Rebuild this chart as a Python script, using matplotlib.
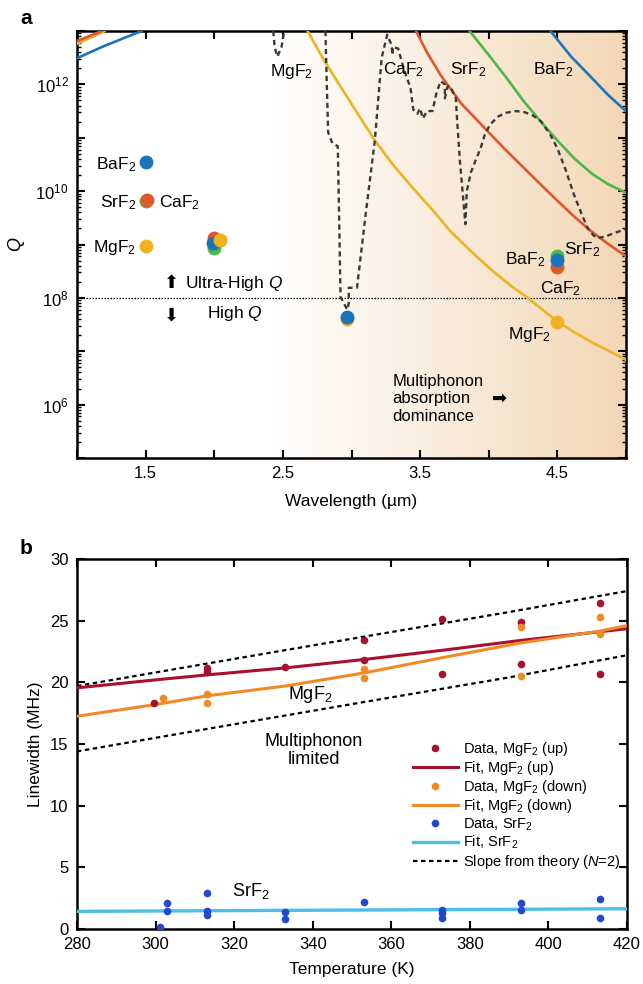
import matplotlib
matplotlib.use("Agg")
import matplotlib.pyplot as plt
import numpy as np
from matplotlib.colors import LinearSegmentedColormap
from matplotlib.ticker import LogLocator, FixedLocator, NullFormatter

plt.rcParams["font.family"] = ["Liberation Sans", "DejaVu Sans"]
plt.rcParams["mathtext.fontset"] = "custom"
plt.rcParams["mathtext.rm"] = "Liberation Sans"
plt.rcParams["mathtext.it"] = "Liberation Sans:italic"
plt.rcParams["font.size"] = 11

# ---------------- panel a data (log10 Q vs wavelength in um) ----------------
# multiphonon-limited Q curves
mgf2_lam = [2.68, 2.8, 2.92, 3.05, 3.17, 3.3, 3.45, 3.6, 3.72, 3.88, 4.03,
            4.16, 4.29, 4.4, 4.5, 4.62, 4.75, 4.88, 5.0]
mgf2_logq = [13.0, 12.45, 11.96, 11.43, 10.95, 10.5, 10.05, 9.62, 9.25, 8.85, 8.5,
             8.23, 7.99, 7.76, 7.56, 7.36, 7.17, 7.0, 6.84]
caf2_lam = [3.47, 3.55, 3.65, 3.8, 4.0, 4.12, 4.25, 4.38, 4.5, 4.62, 4.74, 4.87, 5.0]
caf2_logq = [13.0, 12.6, 12.17, 11.64, 11.1, 10.78, 10.45, 10.12, 9.82, 9.53, 9.26, 9.01, 8.78]
srf2_lam = [3.86, 4.0, 4.13, 4.25, 4.38, 4.5, 4.62, 4.75, 4.87, 5.0]
srf2_logq = [13.0, 12.55, 12.12, 11.7, 11.3, 10.95, 10.62, 10.33, 10.13, 9.97]
baf2_lam = [4.45, 4.6, 4.74, 4.87, 5.0]
baf2_logq = [13.0, 12.52, 12.15, 11.8, 11.5]

# short-wavelength (scattering) curves in the top-left corner
baf2_sc_lam = [1.0, 1.19, 1.47]
baf2_sc_logq = [12.49, 12.71, 13.0]
mgf2_sc_lam = [1.0, 1.2]
mgf2_sc_logq = [12.76, 13.0]
srf2_sc_lam = [1.0, 1.2]
srf2_sc_logq = [12.77, 13.0]
caf2_sc_lam = [1.0, 1.18]
caf2_sc_logq = [12.81, 13.0]

# dashed measured curve
dash_lam = [2.43, 2.44, 2.46, 2.49, 2.51, np.nan,
            2.81, 2.82, 2.83, 2.86, 2.90, 2.91, 2.92, 2.95, 2.97, 2.98, 2.98,
            3.04, 3.10, 3.17, 3.22, 3.26, 3.29, 3.30, 3.30, 3.34, 3.38, 3.43,
            3.45, 3.48, 3.50, 3.52, 3.55, 3.59, 3.62, 3.65, 3.68, 3.68, 3.70,
            3.72, 3.76, 3.77, 3.79, 3.83, 3.84, 3.87, 3.90, 3.94, 3.97, 4.01,
            4.07, 4.13, 4.20, 4.26, 4.32, 4.38, 4.45, 4.50, 4.56, 4.62, 4.68,
            4.72, 4.76, 4.79, 4.85, 4.91, 5.0]
dash_logq = [13.0, 12.7, 12.52, 12.7, 13.0, np.nan,
             13.0, 12.0, 11.1, 10.9, 10.84, 9.5, 8.02, 7.87, 7.78, 7.9, 8.19,
             8.19, 9.5, 10.95, 12.5, 12.93, 12.75, 12.55, 12.7, 12.67, 12.3, 11.93,
             11.53, 11.45, 11.55, 11.36, 11.5, 11.5, 11.85, 12.06, 12.0, 11.74, 11.96,
             11.96, 11.74, 11.31, 10.56, 9.38, 10.0, 10.35, 10.55, 10.8, 11.05, 11.25,
             11.4, 11.47, 11.5, 11.48, 11.42, 11.31, 11.05, 10.8, 10.4, 9.94, 9.55,
             9.31, 9.18, 9.12, 9.15, 9.21, 9.29]

# measured Q markers: (wavelength, log10 Q)
pts_mgf2_lam = [1.5, 2.04, 2.97, 4.5]
pts_mgf2_logq = [8.98, 9.08, 7.6, 7.55]
pts_caf2_lam = [1.51, 2.0, 4.5]
pts_caf2_logq = [9.83, 9.13, 8.58]
pts_srf2_lam = [1.5, 2.0, 4.5]
pts_srf2_logq = [9.82, 8.94, 8.78]
pts_baf2_lam = [1.5, 1.99, 2.97, 4.5]
pts_baf2_logq = [10.55, 9.02, 7.64, 8.71]

# ---------------- panel b data ----------------
temp_up = [299.5, 313, 313, 333, 353, 353, 373, 373, 393, 393, 413, 413]
lw_up = [18.3, 21.15, 20.8, 21.25, 23.45, 21.85, 25.1, 20.7, 24.9, 21.5, 26.45, 20.7]
temp_down = [302, 313, 313, 353, 353, 393, 393, 413, 413]
lw_down = [18.7, 19.05, 18.35, 21.1, 20.35, 24.5, 20.5, 25.3, 23.95]
temp_srf2 = [301, 303, 303, 313, 313, 313, 333, 333, 353, 373, 373, 373,
             393, 393, 413, 413]
lw_srf2 = [0.2, 2.1, 1.5, 2.95, 1.45, 1.15, 1.38, 0.8, 2.2, 1.55, 1.3, 0.92,
           2.1, 1.55, 2.43, 0.92]

fit_t = [280, 300, 313, 333, 353, 373, 393, 413, 420]
fit_up = [19.55, 20.2, 20.6, 21.17, 21.85, 22.6, 23.4, 24.1, 24.35]
fit_down = [17.25, 18.2, 18.9, 19.7, 20.76, 22.0, 23.2, 24.15, 24.6]
fit_srf2 = [1.43, 1.46, 1.48, 1.51, 1.54, 1.57, 1.6, 1.63, 1.64]

theory_t = [280, 320, 353, 390, 420]
theory_hi = [19.7, 21.9, 23.7, 25.7, 27.4]
theory_lo = [14.4, 16.6, 18.4, 20.4, 22.2]

# ---------------- styles ----------------
C_MG = "#efb321"
C_CA = "#e2572a"
C_SR = "#4cb847"
C_BA = "#1b75bc"
C_UP = "#a8112e"
C_DOWN = "#f08a24"
C_SRD = "#2347cf"
C_SRF = "#4dbde9"
BG_START = 2.4
BG_END_COLOR = "#f3d7b6"

fig = plt.figure(figsize=(6.43, 9.84), dpi=100)
ax_a = fig.add_axes([77 / 643, 1 - 458 / 984, 549 / 643, 427 / 984])
ax_b = fig.add_axes([77 / 643, 1 - 929 / 984, 550 / 643, 370 / 984])

# ---------------- panel a ----------------
ax = ax_a
ax.set_yscale("log")
ax.set_xlim(1, 5)
ax.set_ylim(1e5, 1e13)

cmap = LinearSegmentedColormap.from_list("bg", ["#ffffff", BG_END_COLOR])
xg = np.linspace(1, 5, 400)
cval = np.clip((xg - BG_START) / (5 - BG_START), 0, 1)
ax.pcolormesh(xg, [1e5, 1e13], cval[np.newaxis, :-1], cmap=cmap,
              shading="flat", zorder=0, rasterized=True)


def q(v):
    return 10 ** np.asarray(v, dtype=float)


ax.plot(mgf2_lam, q(mgf2_logq), color=C_MG, lw=1.9, zorder=3)
ax.plot(caf2_lam, q(caf2_logq), color=C_CA, lw=1.9, zorder=3)
ax.plot(srf2_lam, q(srf2_logq), color=C_SR, lw=1.9, zorder=3)
ax.plot(baf2_lam, q(baf2_logq), color=C_BA, lw=1.9, zorder=3)
ax.plot(srf2_sc_lam, q(srf2_sc_logq), color=C_SR, lw=1.9, zorder=3)
ax.plot(mgf2_sc_lam, q(mgf2_sc_logq), color=C_MG, lw=1.9, zorder=3)
ax.plot(caf2_sc_lam, q(caf2_sc_logq), color=C_CA, lw=1.9, zorder=3)
ax.plot(baf2_sc_lam, q(baf2_sc_logq), color=C_BA, lw=1.9, zorder=3)

ax.plot(dash_lam, q(dash_logq), color="#3a3a3a", lw=1.7,
        linestyle=(0, (2.2, 1.6)), zorder=4)
ax.axhline(1e8, color="black", lw=0.9, linestyle=(0, (1.2, 1.2)), zorder=2)

ms = 10
ax.plot(pts_mgf2_lam, q(pts_mgf2_logq), "o", color=C_MG, ms=ms, mec="none", zorder=5)
ax.plot(pts_srf2_lam, q(pts_srf2_logq), "o", color=C_SR, ms=ms, mec="none", zorder=5)
ax.plot(pts_caf2_lam, q(pts_caf2_logq), "o", color=C_CA, ms=ms, mec="none", zorder=5)
ax.plot(pts_baf2_lam, q(pts_baf2_logq), "o", color=C_BA, ms=ms, mec="none", zorder=6)
# MgF2 at 2 um sits on top of the cluster
ax.plot(pts_mgf2_lam[1], q(pts_mgf2_logq[1]), "o", color=C_MG, ms=ms, mec="none", zorder=7)

fs = 12.5
for txt, x, y, ha in [
    ("MgF$_2$", 2.56, 12.24, "center"),
    ("CaF$_2$", 3.38, 12.28, "center"),
    ("SrF$_2$", 3.85, 12.28, "center"),
    ("BaF$_2$", 4.47, 12.28, "center"),
    ("BaF$_2$", 1.43, 10.5, "right"),
    ("SrF$_2$", 1.43, 9.78, "right"),
    ("CaF$_2$", 1.595, 9.78, "left"),
    ("MgF$_2$", 1.43, 8.94, "right"),
    ("BaF$_2$", 4.41, 8.72, "right"),
    ("SrF$_2$", 4.55, 8.9, "left"),
    ("CaF$_2$", 4.52, 8.18, "center"),
    ("MgF$_2$", 4.30, 7.32, "center"),
]:
    ax.text(x, q(y), txt, ha=ha, va="center", fontsize=fs, zorder=8)

ax.text(1.69, q(8.27), "\u2b06", ha="center", va="center", fontsize=13,
        family=["DejaVu Sans"])
ax.text(1.785, q(8.27), "Ultra-High $Q$", ha="left", va="center", fontsize=fs)
ax.text(1.69, q(7.66), "\u2b07", ha="center", va="center", fontsize=13,
        family=["DejaVu Sans"])
ax.text(1.945, q(7.7), "High $Q$", ha="left", va="center", fontsize=fs)
ax.text(3.30, q(6.11), "Multiphonon\nabsorption\ndominance", ha="left",
        va="center", fontsize=12, linespacing=1.2)
ax.text(4.08, q(6.11), "\u27a1", ha="center", va="center", fontsize=13,
        family=["DejaVu Sans"])

ax.xaxis.set_major_locator(FixedLocator(np.arange(1, 5.01, 0.5)))
ax.set_xticklabels(["", "1.5", "", "2.5", "", "3.5", "", "4.5", ""])
ax.yaxis.set_major_locator(FixedLocator([10.0 ** k for k in range(5, 14)]))
ax.set_yticklabels(["" if k % 2 else f"$10^{{{k}}}$" for k in range(5, 14)])
ax.yaxis.set_minor_locator(LogLocator(base=10, subs=np.arange(2, 10), numticks=30))
ax.yaxis.set_minor_formatter(NullFormatter())
ax.set_xlabel("Wavelength (\u00b5m)", fontsize=12.5, labelpad=9)
ax.set_ylabel("$Q$", fontsize=13, labelpad=6)

# ---------------- panel b ----------------
ax = ax_b
ax.set_xlim(280, 420)
ax.set_ylim(0, 30)
ax.plot(temp_up, lw_up, "o", color=C_UP, ms=5.5, mec="none", label="Data, MgF$_2$ (up)", zorder=5)
ax.plot(fit_t, fit_up, color=C_UP, lw=2.2, label="Fit, MgF$_2$ (up)", zorder=4)
ax.plot(temp_down, lw_down, "o", color=C_DOWN, ms=5.5, mec="none", label="Data, MgF$_2$ (down)", zorder=5)
ax.plot(fit_t, fit_down, color=C_DOWN, lw=2.2, label="Fit, MgF$_2$ (down)", zorder=4)
ax.plot(temp_srf2, lw_srf2, "o", color=C_SRD, ms=5.5, mec="none", label="Data, SrF$_2$", zorder=5)
ax.plot(fit_t, fit_srf2, color=C_SRF, lw=2.4, label="Fit, SrF$_2$", zorder=4)
ax.plot(theory_t, theory_hi, color="black", lw=1.6, linestyle=(0, (2, 1.6)),
        label="Slope from theory ($N$=2)", zorder=3)
ax.plot(theory_t, theory_lo, color="black", lw=1.6, linestyle=(0, (2, 1.6)), zorder=3)

ax.text(339.3, 19.0, "MgF$_2$", ha="center", va="center", fontsize=13)
ax.text(340.3, 14.5, "Multiphonon\nlimited", ha="center", va="center",
        fontsize=13, linespacing=1.1)
ax.text(324.3, 3.1, "SrF$_2$", ha="center", va="center", fontsize=13)

ax.legend(loc="lower right", bbox_to_anchor=(1.0, 0.14), frameon=False,
          fontsize=10.5, handlelength=3.1, handletextpad=0.35, labelspacing=0.08,
          numpoints=1, borderaxespad=0.05)

ax.set_xticks(np.arange(280, 421, 20))
ax.set_yticks(np.arange(0, 31, 5))
ax.set_xlabel("Temperature (K)", fontsize=12.5, labelpad=7)
ax.set_ylabel("Linewidth (MHz)", fontsize=12.5, labelpad=5)

for a in (ax_a, ax_b):
    for s in a.spines.values():
        s.set_linewidth(1.8)
    a.tick_params(which="both", direction="in", top=True, right=True,
                  labelsize=12, width=1.5)
    a.tick_params(which="major", length=6, pad=6)
    a.tick_params(which="minor", length=3, width=1.0)

fig.text(20 / 643, 1 - 18 / 984, "a", fontsize=15, fontweight="bold", va="center")
fig.text(20 / 643, 1 - 549 / 984, "b", fontsize=15, fontweight="bold", va="center")

fig.savefig("out.png", dpi=100)
